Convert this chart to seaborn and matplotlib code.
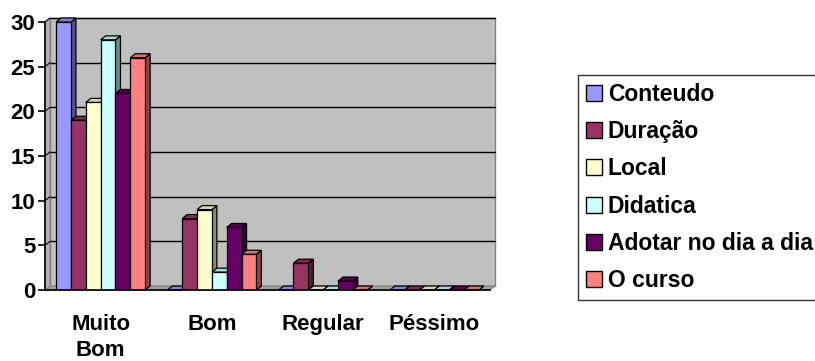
import matplotlib
matplotlib.use("Agg")
import matplotlib.pyplot as plt
import matplotlib.transforms as mtransforms
from matplotlib.patches import Polygon, Patch
import numpy as np
import pandas as pd
import seaborn as sns
from matplotlib.colors import to_rgb

categories = ["Muito\nBom", "Bom", "Regular", "Péssimo"]
series = ["Conteudo", "Duração", "Local", "Didatica", "Adotar no dia a dia", "O curso"]
conteudo = [30, 0, 0, 0]
duracao = [19, 8, 3, 0]
local = [21, 9, 0, 0]
didatica = [28, 2, 0, 0]
adotar = [22, 7, 1, 0]
o_curso = [26, 4, 0, 0]
colors = ["#9999FF", "#993366", "#FFFFCC", "#CCFFFF", "#660066", "#FF8080"]
y_ticks = [0, 5, 10, 15, 20, 25, 30]

values = [conteudo, duracao, local, didatica, adotar, o_curso]
df = pd.DataFrame(
    [(c, s, v) for s, vals in zip(series, values) for c, v in zip(categories, vals)],
    columns=["categoria", "serie", "valor"],
)

sns.set_theme(style="white")
plt.rcParams["font.family"] = ["Liberation Sans", "DejaVu Sans"]
plt.rcParams["font.weight"] = "bold"
plt.rcParams["text.color"] = "black"
plt.rcParams["xtick.color"] = "black"
plt.rcParams["ytick.color"] = "black"

fig = plt.figure(figsize=(8.15, 3.61), dpi=100)
ax = fig.add_axes([45 / 815, 1 - 290 / 361, 445 / 815, 268 / 361])
ax.set_facecolor("none")

x0, x1 = -0.5, len(categories) - 0.5
ymax = max(y_ticks)

sns.barplot(data=df, x="categoria", y="valor", hue="serie", hue_order=series,
            palette=colors, width=0.8, gap=0, edgecolor="black", linewidth=0.9,
            saturation=1, legend=False, ax=ax)
ax.set_xlim(x0, x1)
ax.set_ylim(0, ymax)
bars = list(ax.patches)

# depth offset of the pseudo-3D look (inches)
ddx, ddy = 0.05, 0.04
back = ax.transData + mtransforms.ScaledTranslation(ddx, ddy, fig.dpi_scale_trans)

def shade(c, f):
    r, g, b = to_rgb(c)
    return (r * f, g * f, b * f)

def disp_poly(pts_front, pts_back, **kw):
    # polygon joining points on the front plane with points on the back plane
    fr = [ax.transData.transform(p) for p in pts_front]
    bk = [back.transform(p) for p in pts_back]
    return Polygon(fr + bk, closed=True, transform=None, clip_on=False, **kw)

# back wall with its gridlines
ax.add_patch(Polygon([(x0, 0), (x1, 0), (x1, ymax), (x0, ymax)], closed=True,
                     facecolor="#C0C0C0", edgecolor="#808080", lw=1.0,
                     transform=back, zorder=0, clip_on=False))
for yv in y_ticks[1:]:
    ax.plot([x0, x1], [yv, yv], color="black", lw=1.0, transform=back,
            zorder=0.5, clip_on=False)

# floor and left wall
ax.add_patch(disp_poly([(x0, 0), (x1, 0)], [(x1, 0), (x0, 0)],
                       facecolor="#A0A0A0", edgecolor="#808080", lw=0.8, zorder=0.6))
ax.add_patch(disp_poly([(x0, 0), (x0, ymax)], [(x0, ymax), (x0, 0)],
                       facecolor="#B4B4B4", edgecolor="#808080", lw=0.8, zorder=0.6))
for yv in y_ticks[1:]:
    a = ax.transData.transform((x0, yv))
    b = back.transform((x0, yv))
    ax.add_line(plt.Line2D([a[0], b[0]], [a[1], b[1]], color="black", lw=0.8,
                           transform=None, zorder=0.7, clip_on=False))

# top and side faces of every bar; bars further right sit in front
for p in bars:
    fc = p.get_facecolor()
    xl, w, h = p.get_x(), p.get_width(), p.get_height()
    xr = xl + w
    z = 2 + 0.01 * (xl + 1)
    p.set_zorder(z)
    side = disp_poly([(xr, 0), (xr, h)], [(xr, h), (xr, 0)],
                     facecolor=shade(fc, 0.55), edgecolor="black", lw=0.9, zorder=z - 0.001)
    top = disp_poly([(xl, h), (xr, h)], [(xr, h), (xl, h)],
                    facecolor=shade(fc, 0.85), edgecolor="black", lw=0.9, zorder=z - 0.001)
    ax.add_patch(side)
    ax.add_patch(top)

for s in ["top", "right"]:
    ax.spines[s].set_visible(False)
for s in ["left", "bottom"]:
    ax.spines[s].set_color("black")
    ax.spines[s].set_linewidth(1.2)
    ax.spines[s].set_zorder(3)

ax.set_yticks(y_ticks)
ax.set_yticklabels([str(v) for v in y_ticks])
ax.set_xticks(range(len(categories)))
ax.set_xticklabels(categories, multialignment="center", linespacing=1.35)
ax.set_xticks(np.arange(x0, x1 + 0.01, 1.0), minor=True)
ax.tick_params(axis="x", which="major", length=0, pad=17, labelsize=16, labelcolor="black")
ax.tick_params(axis="x", which="minor", length=5, width=1.2, color="black", direction="out")
ax.tick_params(axis="y", length=5, width=1.2, color="black", direction="out",
               left=True, pad=2, labelsize=16, labelcolor="black")
for t in ax.get_xticklabels() + ax.get_yticklabels():
    t.set_fontweight("bold")
    t.set_color("black")
ax.set_xlabel("")
ax.set_ylabel("")

handles = [Patch(facecolor=c, edgecolor="black", lw=1.0) for c in colors]
leg = fig.legend(handles, series, loc="upper left",
                 bbox_to_anchor=(578 / 815, 1 - 75 / 361),
                 frameon=True, fancybox=False, edgecolor="black",
                 prop={"family": "Liberation Sans", "weight": "bold", "size": 16.5},
                 handlelength=0.7, handleheight=0.7, handletextpad=0.25,
                 labelspacing=0.62, borderpad=0.35, borderaxespad=0,
                 labelcolor="black")
leg.get_frame().set_linewidth(1.0)

fig.savefig("out.png", dpi=100)
